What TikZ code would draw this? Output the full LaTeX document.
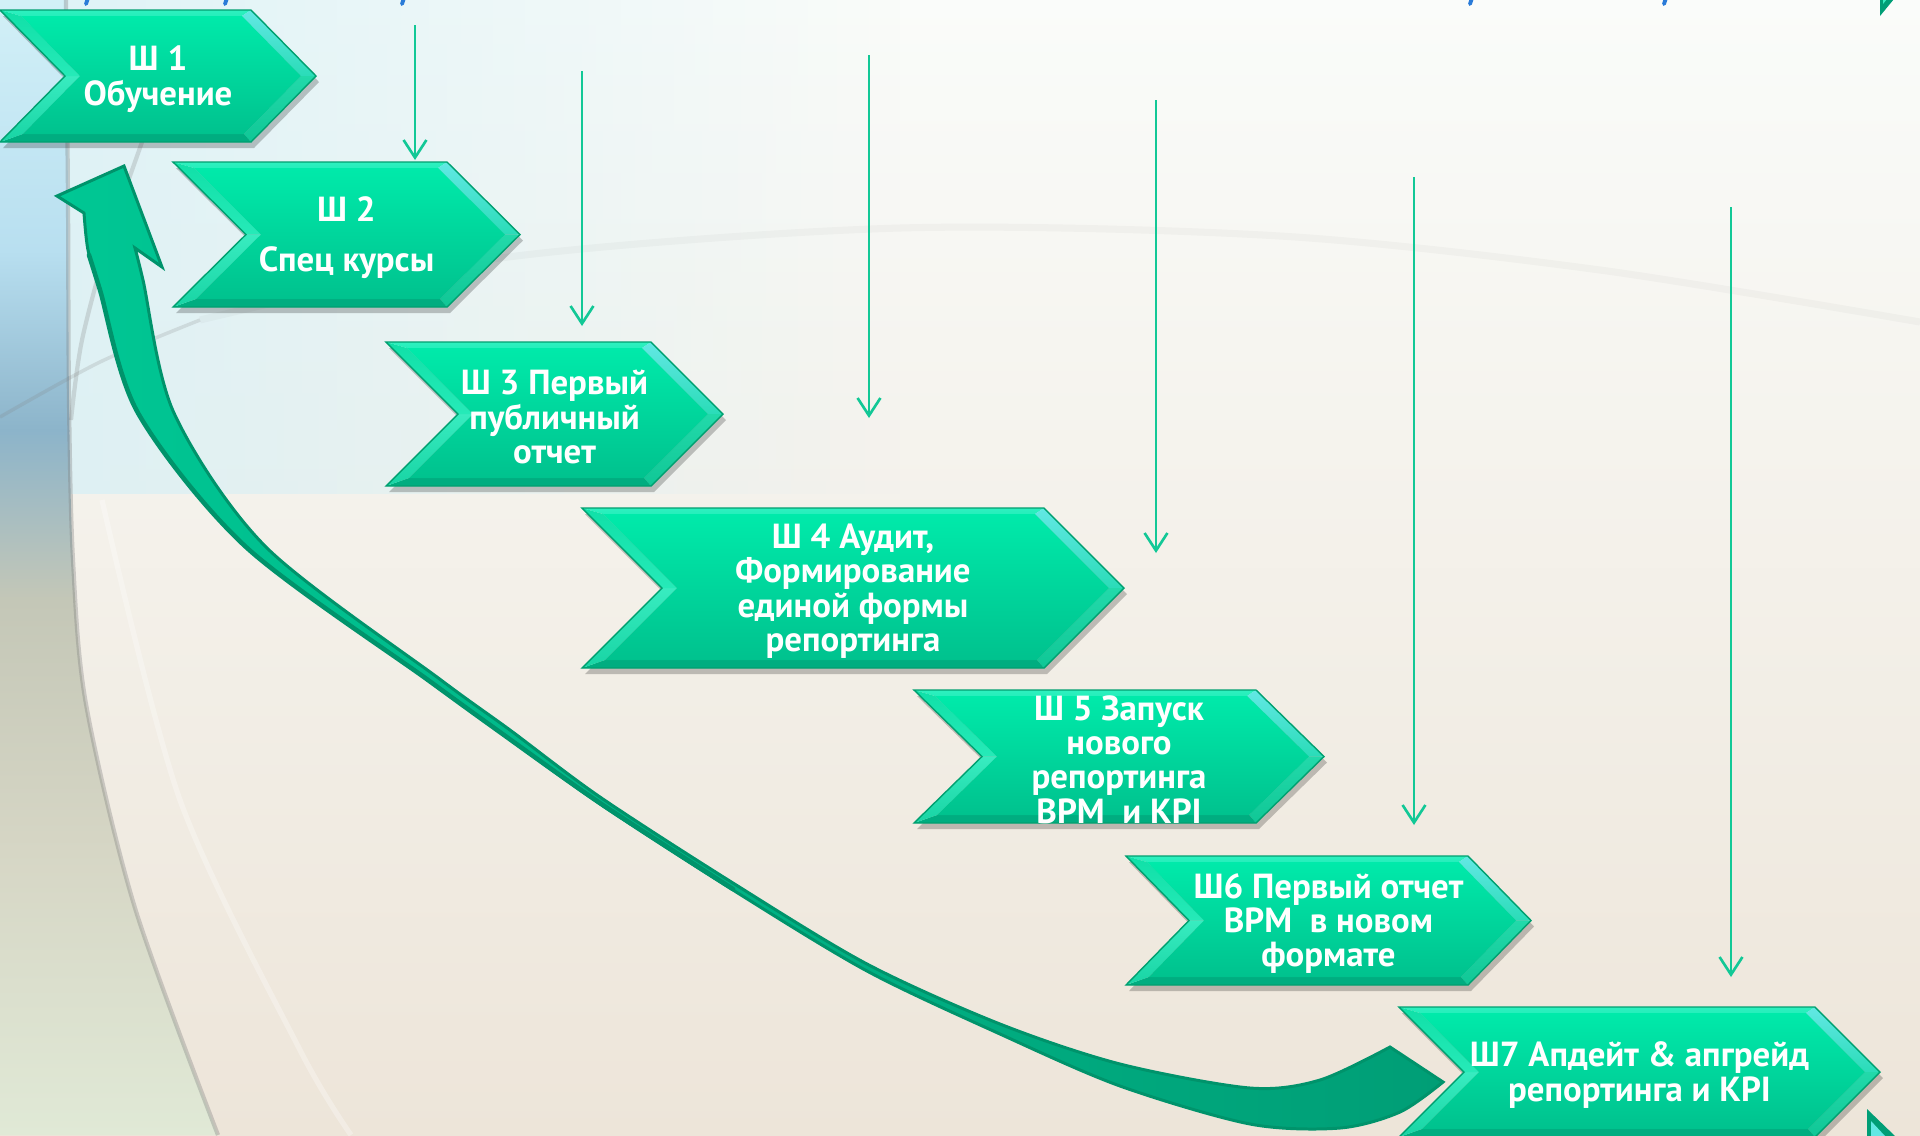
\documentclass[tikz,border=0pt]{standalone}
\usepackage{fontspec}
\setsansfont{PT Sans}
\usetikzlibrary{arrows.meta,calc,fadings}

\definecolor{arrgreen}{HTML}{12C896}
\definecolor{chline}{HTML}{00A070}
\definecolor{faceTop}{HTML}{00EAAA}
\definecolor{faceBot}{HTML}{00C28E}
\definecolor{facTopC}{HTML}{2EF0BF}
\definecolor{facURa}{HTML}{62E8E4}
\definecolor{facURb}{HTML}{2ADCB8}
\definecolor{facLRa}{HTML}{22D9AA}
\definecolor{facLRb}{HTML}{10C796}
\definecolor{facBotC}{HTML}{00AD80}
\definecolor{facULa}{HTML}{10E0A8}
\definecolor{facULb}{HTML}{26EAB8}
\definecolor{facLLa}{HTML}{38ECC0}
\definecolor{facLLb}{HTML}{18D4A4}
\definecolor{cvLight}{HTML}{00C794}
\definecolor{cvDark}{HTML}{009E76}
\definecolor{cvLine}{HTML}{00936B}
\definecolor{titleblue}{HTML}{2A7BD8}
\definecolor{bgTop}{RGB}{250,252,250}
\definecolor{bgMid}{RGB}{244,242,235}
\definecolor{bgBot}{RGB}{237,229,217}
\definecolor{bgBlue}{RGB}{214,240,246}

\tikzset{
  stepbox/.style={white, font=\sffamily\bfseries\fontsize{9.9}{9.8}\selectfont, align=center, inner sep=0pt},
  vconn/.style={draw=arrgreen, line width=0.75pt, -{Straight Barb[length=5pt,width=6.5pt]}},
  bgline/.style={draw=gray, line width=1.2pt, opacity=0.35},
}

\newcommand{\chevronstep}[7]{%
\pgfmathsetmacro{\chL}{#2}%
\pgfmathsetmacro{\chR}{#3}%
\pgfmathsetmacro{\chT}{#4}%
\pgfmathsetmacro{\chB}{#5}%
\pgfmathsetmacro{\chD}{#6}%
\pgfmathsetmacro{\chM}{(#4+#5)/2}%
\pgfmathsetmacro{\chr}{#6/((#5-#4)/2)}%
\pgfmathsetmacro{\aTLx}{\chL+\chr*6+15}%
\pgfmathsetmacro{\aTRx}{\chR+\chr*6-15}%
\pgfmathsetmacro{\aTipx}{\chR+\chD-15}%
\pgfmathsetmacro{\aBRx}{\chR+\chr*8-15}%
\pgfmathsetmacro{\aBLx}{\chL+\chr*8+15}%
\pgfmathsetmacro{\aNx}{\chL+\chD+15}%
\pgfmathsetmacro{\aTy}{\chT+6}%
\pgfmathsetmacro{\aBy}{\chB-8}%
\pgfmathsetmacro{\chTip}{\chR+\chD}%
\pgfmathsetmacro{\chN}{\chL+\chD}%
\pgfmathsetmacro{\chCx}{(\chL+\chR+\chD)/2}%
\fill[black,opacity=0.22] (\chL+3,\chT+6) -- (\chR+3,\chT+6) -- (\chTip+3,\chM+6) -- (\chR+3,\chB+6) -- (\chL+3,\chB+6) -- (\chN+3,\chM+6) -- cycle;
\shade[top color=facTopC, bottom color=facTopC!80!faceTop] (\chL,\chT) -- (\chR,\chT) -- (\aTRx,\aTy) -- (\aTLx,\aTy) -- cycle;
\shade[top color=facURa, bottom color=facURb] (\chR,\chT) -- (\chTip,\chM) -- (\aTipx,\chM) -- (\aTRx,\aTy) -- cycle;
\shade[top color=facLRa, bottom color=facLRb] (\chTip,\chM) -- (\chR,\chB) -- (\aBRx,\aBy) -- (\aTipx,\chM) -- cycle;
\fill[facBotC] (\chR,\chB) -- (\chL,\chB) -- (\aBLx,\aBy) -- (\aBRx,\aBy) -- cycle;
\shade[top color=facLLa, bottom color=facLLb] (\chL,\chB) -- (\chN,\chM) -- (\aNx,\chM) -- (\aBLx,\aBy) -- cycle;
\shade[top color=facULa, bottom color=facULb] (\chN,\chM) -- (\chL,\chT) -- (\aTLx,\aTy) -- (\aNx,\chM) -- cycle;
\shade[top color=faceTop, bottom color=faceBot] (\aTLx,\aTy) -- (\aTRx,\aTy) -- (\aTipx,\chM) -- (\aBRx,\aBy) -- (\aBLx,\aBy) -- (\aNx,\chM) -- cycle;
\draw[chline, line width=0.4pt, line join=miter] (\chL,\chT) -- (\chR,\chT) -- (\chTip,\chM) -- (\chR,\chB) -- (\chL,\chB) -- (\chN,\chM) -- cycle;
\node[stepbox] (#1) at (\chCx,\chM+3) {#7};
}

\begin{document}
\begin{tikzpicture}[x=0.01cm,y=-0.01cm]
\useasboundingbox (0,0) rectangle (1920,1135);
\clip (0,0) rectangle (1920,1135);

% ---------- background ----------
\shade[top color=bgTop, middle color=bgMid, bottom color=bgBot] (0,0) rectangle (1920,1135);
\fill[bgBlue, path fading=east, opacity=0.8] (0,0) rectangle (900,494);

\begin{scope}
\clip (0,0) -- plot[smooth] coordinates {(66,0) (68,200) (69,400) (73,560) (86,704) (135,908) (218,1135)} -- (0,1135) -- cycle;
\shade[top color={rgb,255:red,210;green,240;blue,247}, bottom color={rgb,255:red,184;green,223;blue,240}] (0,0) rectangle (300,251);
\shade[top color={rgb,255:red,184;green,223;blue,240}, bottom color={rgb,255:red,140;green,180;blue,202}] (0,250) rectangle (300,431);
\shade[top color={rgb,255:red,140;green,180;blue,202}, bottom color={rgb,255:red,196;green,199;blue,183}] (0,430) rectangle (300,601);
\shade[top color={rgb,255:red,196;green,199;blue,183}, bottom color={rgb,255:red,214;green,214;blue,197}] (0,600) rectangle (300,851);
\shade[top color={rgb,255:red,214;green,214;blue,197}, bottom color={rgb,255:red,224;green,233;blue,214}] (0,850) rectangle (300,1135);
\end{scope}
\draw[bgline] plot[smooth] coordinates {(66,0) (68,200) (69,400) (73,560) (86,704) (135,908) (218,1135)};
\draw[bgline, opacity=0.25] plot[smooth] coordinates {(160,90) (142,142) (110,235) (82,340) (71,420)};
\draw[draw=gray, line width=1pt, opacity=0.2] plot[smooth] coordinates {(0,417) (100,362) (200,320)};
\draw[draw=gray, line width=2pt, opacity=0.06] plot[smooth] coordinates {(200,320) (500,258) (900,228) (1280,236) (1600,270) (1920,322)};
\draw[white, line width=1.5pt, opacity=0.3] plot[smooth] coordinates {(102,500) (180,800) (300,1050) (351,1135)};

% cut-off title glyph fragments at the top edge
\foreach \bx in {88,227,404,1472,1666}
  \draw[titleblue, line width=1.1pt, line cap=round] (\bx,-2) -- (\bx-2,4);

% ---------- big curved return arrow ----------
\shade[left color=cvLight, right color=cvDark, draw=cvLine, line width=0.85pt, line join=miter]
  (57,196) -- (124,166) -- (162,267) -- (135,248)
  -- plot[smooth] coordinates {(135,248) (143,280) (174,413) (266,547) (441,680) (510,730) (600,797) (733,883) (867,964) (1000,1024) (1120,1064) (1250,1088) (1320,1080) (1390,1047)}
  -- (1443,1082)
  -- plot[smooth] coordinates {(1443,1082) (1400,1112) (1340,1128) (1250,1124) (1120,1086) (1000,1034) (867,971) (733,890) (600,804) (497,730) (428,680) (246,547) (138,413) (100,290) (88,250) (84,213)}
  -- cycle;
% darker outer strand of the twisted ribbon
\draw[cvLine, line width=1.3pt, line cap=round] plot[smooth] coordinates {(89,255) (100,290) (138,413) (246,547) (428,680) (497,730) (600,803) (733,889)};

% ---------- chevron steps ----------
\chevronstep{s1}{0}{251}{10}{142}{65}{Ш 1\\Обучение}
\chevronstep{s2}{173}{447}{162}{307}{73}{Ш 2\\[4.5pt]Спец курсы}
\chevronstep{s3}{386}{651}{342}{486}{72}{Ш 3 Первый\\публичный\\отчет}
\chevronstep{s4}{582}{1044}{508}{668}{80}{Ш 4 Аудит,\\Формирование\\единой формы\\репортинга}
\chevronstep{s5}{914}{1256}{690}{823}{68}{Ш 5 Запуск\\нового\\репортинга\\BPM~ и KPI}
\chevronstep{s6}{1126}{1468}{856}{985}{63}{Ш6 Первый отчет\\BPM~ в новом\\формате}
\chevronstep{s7}{1399}{1815}{1007}{1137}{65}{Ш7 Апдейт \& апгрейд\\репортинга и KPI}

% ---------- vertical arrows ----------
\coordinate (v1a) at (415,25);   \coordinate (v1b) at (415,160);
\coordinate (v2a) at (582,71);   \coordinate (v2b) at (582,326);
\coordinate (v3a) at (869,55);   \coordinate (v3b) at (869,418);
\coordinate (v4a) at (1156,100); \coordinate (v4b) at (1156,553);
\coordinate (v5a) at (1414,177); \coordinate (v5b) at (1414,825);
\coordinate (v6a) at (1731,207); \coordinate (v6b) at (1731,977);
\draw[vconn] (v1a) -- (v1b);
\draw[vconn] (v2a) -- (v2b);
\draw[vconn] (v3a) -- (v3b);
\draw[vconn] (v4a) -- (v4b);
\draw[vconn] (v5a) -- (v5b);
\draw[vconn] (v6a) -- (v6b);

% ---------- corner fragments ----------
\fill[cvDark] (1880,-1) -- (1880,16) -- (1894,-1) -- cycle;
\fill[facLLa] (1883,-1) -- (1883,4) -- (1887,-1) -- cycle;
\fill[cvDark] (1867,1109) -- (1867,1136) -- (1895,1136) -- cycle;
\fill[facURa] (1871,1121) -- (1871,1136) -- (1885,1136) -- cycle;
\end{tikzpicture}
\end{document}
